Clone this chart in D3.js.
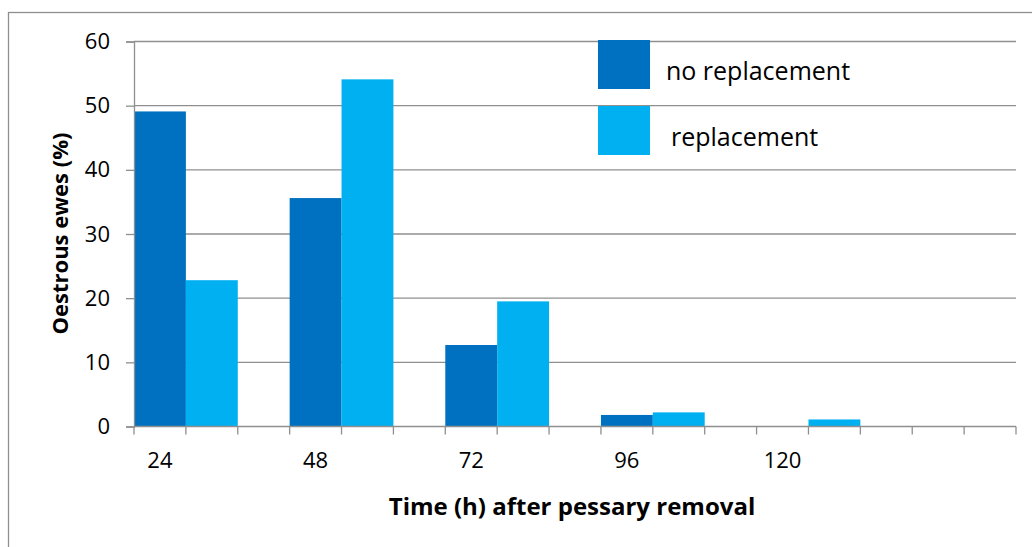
<!DOCTYPE html>
<html>
<head>
<meta charset="utf-8">
<script src="https://cdn.jsdelivr.net/npm/d3@7"></script>
<style>
  body { margin: 0; background: #fff; }
  svg text { font-family: "Open Sans", "Noto Sans", sans-serif; fill: #000; }
</style>
</head>
<body>
<script>
//-----------------Data----------------

const categories = ["24", "48", "72", "96", "120"];
const seriesNames = ["no replacement", "replacement"];
const noReplacement = [49.1, 35.6, 12.7, 1.8, 0];
const replacement = [22.8, 54.1, 19.5, 2.2, 1.1];
const yTicks = [0, 10, 20, 30, 40, 50, 60];

const colors = ["#0070C0", "#00B0F0"];
const gridColor = "#8f8f8f";

//-----------------Main svg----------------

const width = 1032;
const height = 547;
const plot = { left: 134, right: 1016, top: 41.5, bottom: 426.5 };

const svg = d3.select("body").append("svg").attr("width", width).attr("height", height);

// outer chart frame (cut off by the picture on the right and bottom)
svg
  .append("rect")
  .attr("x", 8.5)
  .attr("y", 12.5)
  .attr("width", 1100)
  .attr("height", 600)
  .attr("fill", "none")
  .attr("stroke", gridColor)
  .attr("stroke-width", 1.3);

//----------------Scaling-----------------

// the category axis has 17 equal slots; each time group uses 3 of them
const slotCount = 17;
const x = d3.scaleBand().domain(d3.range(slotCount)).range([plot.left, plot.right]).padding(0);
const y = d3.scaleLinear().domain([0, 60]).range([plot.bottom, plot.top]);

//----------------Grid-----------------

svg
  .append("g")
  .selectAll("line")
  .data(yTicks.filter((t) => t > 0))
  .enter()
  .append("line")
  .attr("x1", plot.left)
  .attr("x2", plot.right)
  .attr("y1", (d) => y(d))
  .attr("y2", (d) => y(d))
  .attr("stroke", gridColor)
  .attr("stroke-width", 1.3);

//----------------Bars-----------------

const series = [noReplacement, replacement];
series.forEach((values, j) => {
  svg
    .append("g")
    .selectAll("rect")
    .data(values)
    .enter()
    .append("rect")
    .attr("x", (d, i) => x(i * 3 + j))
    .attr("y", (d) => y(d))
    .attr("width", x.bandwidth())
    .attr("height", (d) => y(0) - y(d))
    .attr("fill", colors[j]);
});

//----------------Axes-----------------

const yAxis = svg
  .append("g")
  .attr("transform", `translate(${plot.left},0)`)
  .call(d3.axisLeft(y).tickValues(yTicks).tickSize(8).tickPadding(16));
yAxis.select(".domain").attr("stroke", gridColor).attr("stroke-width", 1.3);
yAxis.selectAll(".tick line").attr("stroke", gridColor).attr("stroke-width", 1.3);
yAxis.selectAll(".tick text").style("font-size", "22px").attr("fill", "#000");

const xTickPositions = d3.range(slotCount).map((s) => x(s)).concat([plot.right]);
const xAxis = svg.append("g");
xAxis
  .append("line")
  .attr("x1", plot.left)
  .attr("x2", plot.right)
  .attr("y1", y(0))
  .attr("y2", y(0))
  .attr("stroke", gridColor)
  .attr("stroke-width", 1.3);
xAxis
  .selectAll("line.tick")
  .data(xTickPositions)
  .enter()
  .append("line")
  .attr("class", "tick")
  .attr("x1", (d) => d)
  .attr("x2", (d) => d)
  .attr("y1", y(0))
  .attr("y2", y(0) + 8)
  .attr("stroke", gridColor)
  .attr("stroke-width", 1.3);
xAxis
  .selectAll("text")
  .data(categories)
  .enter()
  .append("text")
  .text((d) => d)
  .attr("x", (d, i) => x(i * 3) + x.bandwidth() / 2)
  .attr("y", 468)
  .style("font-size", "22px")
  .style("text-anchor", "middle");

//----------------Axis titles-----------------

svg
  .append("text")
  .text("Time (h) after pessary removal")
  .attr("x", 572)
  .attr("y", 515)
  .style("font-size", "24px")
  .style("font-weight", "bold")
  .style("text-anchor", "middle");

svg
  .append("text")
  .text("Oestrous ewes (%)")
  .attr("transform", "translate(68,233.5) rotate(-90)")
  .style("font-size", "22px")
  .style("font-weight", "bold")
  .style("text-anchor", "middle");

//-----------Legend--------------

const legend = svg.append("g").attr("id", "legend");
const legendTextX = [666, 671];
seriesNames.forEach((name, j) => {
  legend
    .append("rect")
    .attr("x", 598)
    .attr("y", 40 + j * 66)
    .attr("width", 52)
    .attr("height", 49)
    .attr("fill", colors[j]);
  legend
    .append("text")
    .text(name)
    .attr("x", legendTextX[j])
    .attr("y", 69.5 + j * 66)
    .attr("dominant-baseline", "central")
    .style("font-size", "25px");
});
</script>
</body>
</html>
